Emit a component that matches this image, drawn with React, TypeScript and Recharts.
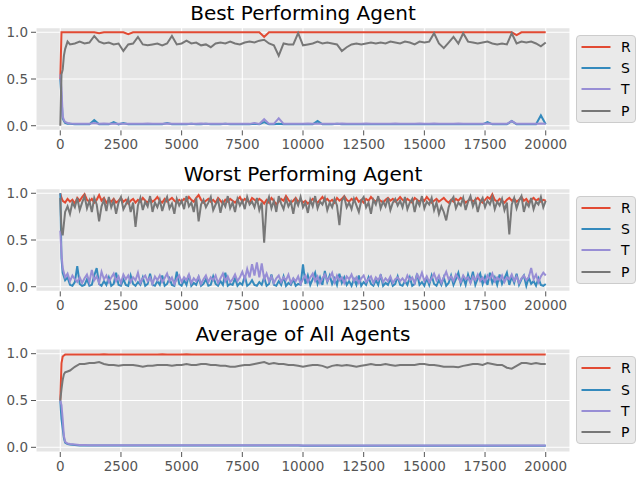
import React from 'react';
import { LineChart, Line, XAxis, YAxis, CartesianGrid, Legend } from 'recharts';

// training step at which each sample was taken (best / average panels)
const STEPS = [
  0, 50, 100, 150, 200, 300, 400, 600, 800, 1000,
  1200, 1400, 1600, 1800, 2000, 2200, 2400, 2600, 2800, 3000,
  3200, 3400, 3600, 3800, 4000, 4200, 4400, 4600, 4800, 5000,
  5200, 5400, 5600, 5800, 6000, 6200, 6400, 6600, 6800, 7000,
  7200, 7400, 7600, 7800, 8000, 8200, 8400, 8600, 8800, 9000,
  9200, 9400, 9600, 9800, 10000, 10200, 10400, 10600, 10800, 11000,
  11200, 11400, 11600, 11800, 12000, 12200, 12400, 12600, 12800, 13000,
  13200, 13400, 13600, 13800, 14000, 14200, 14400, 14600, 14800, 15000,
  15200, 15400, 15600, 15800, 16000, 16200, 16400, 16600, 16800, 17000,
  17200, 17400, 17600, 17800, 18000, 18200, 18400, 18600, 18800, 19000,
  19200, 19400, 19600, 19800, 20000,
];

// the worst agent is noisier, sampled every 100 steps
const WORST_STEPS = [
  0, 50,
  100, 200, 300, 400, 500, 600, 700, 800, 900, 1000,
  1100, 1200, 1300, 1400, 1500, 1600, 1700, 1800, 1900, 2000,
  2100, 2200, 2300, 2400, 2500, 2600, 2700, 2800, 2900, 3000,
  3100, 3200, 3300, 3400, 3500, 3600, 3700, 3800, 3900, 4000,
  4100, 4200, 4300, 4400, 4500, 4600, 4700, 4800, 4900, 5000,
  5100, 5200, 5300, 5400, 5500, 5600, 5700, 5800, 5900, 6000,
  6100, 6200, 6300, 6400, 6500, 6600, 6700, 6800, 6900, 7000,
  7100, 7200, 7300, 7400, 7500, 7600, 7700, 7800, 7900, 8000,
  8100, 8200, 8300, 8400, 8500, 8600, 8700, 8800, 8900, 9000,
  9100, 9200, 9300, 9400, 9500, 9600, 9700, 9800, 9900, 10000,
  10100, 10200, 10300, 10400, 10500, 10600, 10700, 10800, 10900, 11000,
  11100, 11200, 11300, 11400, 11500, 11600, 11700, 11800, 11900, 12000,
  12100, 12200, 12300, 12400, 12500, 12600, 12700, 12800, 12900, 13000,
  13100, 13200, 13300, 13400, 13500, 13600, 13700, 13800, 13900, 14000,
  14100, 14200, 14300, 14400, 14500, 14600, 14700, 14800, 14900, 15000,
  15100, 15200, 15300, 15400, 15500, 15600, 15700, 15800, 15900, 16000,
  16100, 16200, 16300, 16400, 16500, 16600, 16700, 16800, 16900, 17000,
  17100, 17200, 17300, 17400, 17500, 17600, 17700, 17800, 17900, 18000,
  18100, 18200, 18300, 18400, 18500, 18600, 18700, 18800, 18900, 19000,
  19100, 19200, 19300, 19400, 19500, 19600, 19700, 19800, 19900, 20000,
];

const X_TICKS = [0, 2500, 5000, 7500, 10000, 12500, 15000, 17500, 20000];
const Y_TICKS = [0, 0.5, 1];
const SERIES = ['R', 'S', 'T', 'P'];
const TITLES = ['Best Performing Agent', 'Worst Performing Agent', 'Average of All Agents'];

// --- best agent ---
const BEST_R = [
  0.5, 1, 1, 1, 1, 1, 1, 1, 1, 1,
  1, 1, 0.99, 1, 1, 1, 1, 1, 0.98, 1,
  1, 1, 1, 1, 1, 1, 1, 1, 1, 1,
  1, 1, 1, 1, 1, 1, 1, 1, 1, 1,
  1, 1, 1, 1, 1, 1, 0.95, 1, 1, 1,
  1, 1, 1, 1, 1, 1, 1, 1, 1, 1,
  1, 1, 1, 1, 1, 1, 1, 1, 1, 1,
  1, 1, 1, 1, 1, 1, 1, 1, 1, 1,
  1, 1, 1, 1, 1, 1, 1, 1, 1, 1,
  1, 1, 1, 1, 1, 1, 1, 1, 0.97, 1,
  1, 1, 1, 1, 1,
];
const BEST_S = [
  0.5, 0.3, 0.08, 0.05, 0.03, 0.02, 0.02, 0.015, 0.015, 0.015,
  0.015, 0.06, 0.015, 0.015, 0.015, 0.04, 0.015, 0.03, 0.015, 0.015,
  0.015, 0.015, 0.015, 0.015, 0.015, 0.015, 0.03, 0.015, 0.015, 0.015,
  0.015, 0.02, 0.015, 0.015, 0.02, 0.015, 0.015, 0.015, 0.02, 0.015,
  0.015, 0.015, 0.015, 0.015, 0.02, 0.015, 0.04, 0.015, 0.015, 0.02,
  0.015, 0.015, 0.015, 0.015, 0.015, 0.015, 0.015, 0.05, 0.015, 0.015,
  0.015, 0.02, 0.015, 0.015, 0.015, 0.015, 0.015, 0.015, 0.015, 0.015,
  0.015, 0.015, 0.015, 0.015, 0.015, 0.015, 0.015, 0.015, 0.015, 0.015,
  0.015, 0.015, 0.015, 0.015, 0.015, 0.015, 0.015, 0.015, 0.015, 0.015,
  0.015, 0.015, 0.04, 0.015, 0.015, 0.015, 0.015, 0.05, 0.015, 0.015,
  0.015, 0.015, 0.015, 0.11, 0.015,
];
const BEST_T = [
  0.55, 0.4, 0.1, 0.06, 0.04, 0.03, 0.025, 0.02, 0.02, 0.02,
  0.02, 0.03, 0.02, 0.025, 0.02, 0.02, 0.02, 0.02, 0.02, 0.02,
  0.02, 0.02, 0.025, 0.02, 0.02, 0.02, 0.025, 0.02, 0.02, 0.02,
  0.02, 0.02, 0.02, 0.025, 0.02, 0.02, 0.02, 0.02, 0.02, 0.02,
  0.02, 0.02, 0.02, 0.02, 0.03, 0.02, 0.07, 0.02, 0.02, 0.08,
  0.02, 0.02, 0.02, 0.02, 0.02, 0.025, 0.02, 0.02, 0.02, 0.02,
  0.02, 0.02, 0.025, 0.02, 0.02, 0.02, 0.02, 0.025, 0.02, 0.02,
  0.02, 0.02, 0.02, 0.025, 0.02, 0.02, 0.02, 0.02, 0.025, 0.02,
  0.02, 0.025, 0.02, 0.02, 0.02, 0.02, 0.025, 0.02, 0.02, 0.02,
  0.02, 0.02, 0.025, 0.02, 0.02, 0.02, 0.02, 0.05, 0.02, 0.02,
  0.02, 0.02, 0.02, 0.025, 0.02,
];
const BEST_P = [
  0, 0.55, 0.6, 0.75, 0.82, 0.9, 0.87, 0.88, 0.9, 0.88,
  0.89, 0.96, 0.9, 0.88, 0.89, 0.87, 0.88, 0.8, 0.87, 0.88,
  0.95, 0.87, 0.86, 0.87, 0.88, 0.86, 0.88, 0.96, 0.87, 0.88,
  0.91, 0.88, 0.89, 0.86, 0.87, 0.84, 0.88, 0.89, 0.88, 0.9,
  0.88, 0.87, 0.89, 0.9, 0.89, 0.91, 0.92, 0.88, 0.86, 0.75,
  0.88, 0.87, 0.87, 0.99, 0.86, 0.87, 0.88, 0.9, 0.88, 0.89,
  0.88, 0.87, 0.8, 0.84, 0.87, 0.88, 0.87, 0.88, 0.89, 0.88,
  0.89, 0.88, 0.9, 0.89, 0.88, 0.9, 0.89, 0.87, 0.9, 0.89,
  0.9, 0.99, 0.88, 0.83, 0.89, 0.95, 0.88, 0.99, 0.9, 0.89,
  0.88, 0.89, 0.9, 0.88, 0.87, 0.88, 0.87, 0.99, 0.88, 0.9,
  0.89, 0.9, 0.88, 0.85, 0.89,
];

// --- worst agent ---
const WORST_R = [
  1.0, 0.95,
  0.92, 0.9, 0.94, 0.91, 0.93, 0.89, 0.95, 0.92, 0.96, 0.99, 0.93, 0.91, 0.94, 0.9, 0.93, 0.98, 0.92, 0.95, 0.9, 0.93,
  0.91, 0.94, 0.9, 0.92, 0.95, 0.91, 0.93, 0.89, 0.92, 0.94, 0.9, 0.93, 0.91, 0.95, 0.92, 0.9, 0.94, 0.91, 0.93, 0.96,
  0.92, 0.9, 0.94, 0.91, 0.93, 0.95, 0.92, 0.9, 0.93, 0.91, 0.94, 0.92, 0.96, 0.93, 0.91, 0.95, 0.98, 0.93, 0.9, 0.92,
  0.94, 0.91, 0.93, 0.9, 0.95, 0.92, 0.89, 0.93, 0.91, 0.94, 0.92, 0.9, 0.93, 0.96, 0.91, 0.94, 0.92, 0.9, 0.95, 0.93,
  0.91, 0.94, 0.92, 0.89, 0.93, 0.9, 0.95, 0.92, 0.88, 0.91, 0.94, 0.92, 0.97, 0.93, 0.9, 0.92, 0.95, 0.91, 0.93, 0.9,
  0.92, 0.89, 0.91, 0.94, 0.92, 0.9, 0.93, 0.96, 0.92, 0.94, 0.91, 0.93, 0.9, 0.95, 0.92, 0.94, 0.97, 0.93, 0.91, 0.94,
  0.92, 0.95, 0.91, 0.93, 0.9, 0.94, 0.92, 0.96, 0.93, 0.91, 0.94, 0.92, 0.9, 0.93, 0.95, 0.92, 0.94, 0.91, 0.93, 0.96,
  0.93, 0.91, 0.94, 0.92, 0.9, 0.95, 0.93, 0.91, 0.94, 0.92, 0.96, 0.93, 0.9, 0.92, 0.94, 0.91, 0.93, 0.95, 0.92, 0.9,
  0.93, 0.91, 0.94, 0.92, 0.95, 0.93, 0.9, 0.92, 0.94, 0.91, 0.93, 0.95, 0.92, 0.9, 0.93, 0.96, 0.94, 0.99, 0.93, 0.91,
  0.94, 0.92, 0.9, 0.93, 0.95, 0.92, 0.94, 0.91, 0.93, 0.96, 0.92, 0.94, 0.9, 0.93, 0.95, 0.92, 0.94, 0.91, 0.93, 0.92,
];
const WORST_S = [
  1.0, 0.3,
  0.15, 0.07, 0.1, 0.02, 0.01, 0.05, 0.22, 0.03, 0.01, 0.02, 0.08, 0.01, 0.02, 0.12, 0.2, 0.03, 0.01, 0.06, 0.02, 0.1,
  0.01, 0.03, 0.15, 0.02, 0.01, 0.08, 0.02, 0.01, 0.12, 0.03, 0.01, 0.05, 0.02, 0.1, 0.01, 0.03, 0.14, 0.02, 0.01, 0.06,
  0.02, 0.12, 0.01, 0.03, 0.09, 0.02, 0.01, 0.16, 0.03, 0.01, 0.07, 0.02, 0.13, 0.01, 0.04, 0.02, 0.1, 0.01, 0.03, 0.08,
  0.01, 0.02, 0.11, 0.03, 0.01, 0.06, 0.02, 0.15, 0.01, 0.03, 0.02, 0.09, 0.01, 0.04, 0.02, 0.12, 0.01, 0.03, 0.07, 0.02,
  0.01, 0.05, 0.02, 0.1, 0.01, 0.03, 0.13, 0.02, 0.01, 0.06, 0.02, 0.11, 0.01, 0.04, 0.02, 0.08, 0.01, 0.03, 0.02, 0.24,
  0.03, 0.12, 0.02, 0.08, 0.15, 0.03, 0.1, 0.02, 0.17, 0.05, 0.12, 0.03, 0.09, 0.02, 0.14, 0.04, 0.1, 0.02, 0.06, 0.01,
  0.08, 0.02, 0.12, 0.01, 0.05, 0.02, 0.1, 0.03, 0.01, 0.07, 0.02, 0.13, 0.01, 0.04, 0.02, 0.09, 0.01, 0.03, 0.11, 0.02,
  0.01, 0.06, 0.02, 0.1, 0.01, 0.03, 0.14, 0.02, 0.05, 0.01, 0.09, 0.02, 0.12, 0.03, 0.01, 0.07, 0.02, 0.1, 0.01, 0.04,
  0.12, 0.02, 0.08, 0.15, 0.03, 0.1, 0.02, 0.13, 0.05, 0.16, 0.02, 0.09, 0.14, 0.03, 0.11, 0.02, 0.15, 0.04, 0.1, 0.02,
  0.13, 0.03, 0.09, 0.15, 0.02, 0.11, 0.04, 0.14, 0.02, 0.08, 0.12, 0.01, 0.1, 0.03, 0.06, 0.01, 0.09, 0.02, 0.01, 0.03,
];
const WORST_T = [
  0.6, 0.35,
  0.2, 0.1, 0.14, 0.06, 0.12, 0.08, 0.05, 0.1, 0.04, 0.09, 0.13, 0.05, 0.18, 0.07, 0.11, 0.04, 0.16, 0.08, 0.12, 0.05,
  0.1, 0.14, 0.06, 0.11, 0.04, 0.13, 0.08, 0.12, 0.05, 0.1, 0.07, 0.15, 0.04, 0.09, 0.12, 0.06, 0.1, 0.03, 0.11, 0.07,
  0.12, 0.05, 0.09, 0.14, 0.06, 0.1, 0.03, 0.08, 0.12, 0.05, 0.1, 0.07, 0.13, 0.04, 0.09, 0.06, 0.11, 0.03, 0.08, 0.12,
  0.05, 0.1, 0.07, 0.12, 0.04, 0.09, 0.14, 0.06, 0.11, 0.05, 0.08, 0.13, 0.06, 0.1, 0.16, 0.08, 0.19, 0.1, 0.24, 0.12,
  0.26, 0.1, 0.25, 0.08, 0.14, 0.06, 0.11, 0.04, 0.09, 0.12, 0.05, 0.1, 0.07, 0.13, 0.04, 0.09, 0.06, 0.11, 0.03, 0.08,
  0.12, 0.05, 0.1, 0.14, 0.06, 0.11, 0.04, 0.09, 0.13, 0.06, 0.1, 0.15, 0.05, 0.12, 0.07, 0.1, 0.04, 0.11, 0.08, 0.13,
  0.06, 0.1, 0.04, 0.09, 0.12, 0.05, 0.08, 0.11, 0.04, 0.1, 0.07, 0.12, 0.05, 0.09, 0.06, 0.11, 0.04, 0.08, 0.1, 0.06,
  0.09, 0.05, 0.12, 0.07, 0.1, 0.04, 0.13, 0.08, 0.15, 0.06, 0.11, 0.05, 0.09, 0.14, 0.07, 0.12, 0.04, 0.1, 0.16, 0.08,
  0.11, 0.06, 0.13, 0.09, 0.05, 0.12, 0.08, 0.1, 0.04, 0.11, 0.07, 0.13, 0.06, 0.1, 0.05, 0.12, 0.08, 0.14, 0.06, 0.1,
  0.07, 0.12, 0.05, 0.1, 0.08, 0.13, 0.06, 0.11, 0.04, 0.09, 0.12, 0.07, 0.1, 0.2, 0.08, 0.13, 0.05, 0.11, 0.15, 0.12,
];
const WORST_P = [
  0.95, 0.6,
  0.55, 0.8, 0.86, 0.78, 0.9, 0.85, 0.95, 0.82, 0.9, 0.97, 0.84, 0.92, 0.8, 0.95, 0.88, 0.7, 0.86, 0.93, 0.81, 0.96,
  0.85, 0.92, 0.78, 0.9, 0.96, 0.83, 0.88, 0.94, 0.8, 0.9, 0.64, 0.87, 0.95, 0.82, 0.91, 0.86, 0.97, 0.8, 0.9, 0.85,
  0.93, 0.81, 0.9, 0.96, 0.84, 0.89, 0.78, 0.94, 0.87, 0.92, 0.83, 0.97, 0.86, 0.9, 0.8, 0.95, 0.7, 0.88, 0.93, 0.85,
  0.9, 0.96, 0.82, 0.88, 0.93, 0.79, 0.91, 0.86, 0.97, 0.84, 0.9, 0.8, 0.94, 0.87, 0.92, 0.83, 0.96, 0.88, 0.91, 0.85,
  0.95, 0.82, 0.9, 0.47, 0.88, 0.96, 0.84, 0.92, 0.8, 0.97, 0.89, 0.83, 0.94, 0.86, 0.91, 0.78, 0.93, 0.87, 0.96, 0.85,
  0.9, 0.79, 0.93, 0.86, 0.97, 0.84, 0.91, 0.88, 0.95, 0.82, 0.9, 0.85, 0.94, 0.87, 0.66, 0.92, 0.96, 0.85, 0.9, 0.83,
  0.94, 0.87, 0.8, 0.92, 0.96, 0.85, 0.9, 0.78, 0.93, 0.88, 0.97, 0.84, 0.91, 0.86, 0.95, 0.82, 0.9, 0.94, 0.87, 0.92,
  0.85, 0.96, 0.83, 0.9, 0.94, 0.8, 0.92, 0.87, 0.97, 0.84, 0.91, 0.88, 0.95, 0.82, 0.9, 0.78, 0.86, 0.8, 0.71, 0.85,
  0.92, 0.96, 0.84, 0.9, 0.87, 0.95, 0.82, 0.91, 0.97, 0.86, 0.93, 0.8, 0.9, 0.95, 0.85, 0.92, 0.88, 0.96, 0.83, 0.91,
  0.87, 0.94, 0.82, 0.9, 0.56, 0.88, 0.95, 0.84, 0.92, 0.97, 0.8, 0.9, 0.86, 0.95, 0.83, 0.91, 0.88, 0.96, 0.85, 0.92,
];

// --- average of all agents ---
const AVG_R = [
  0.5, 0.9, 0.97, 0.98, 0.99, 0.99, 0.99, 0.99, 0.99, 0.99,
  0.99, 0.99, 0.99, 0.995, 0.99, 0.99, 0.99, 0.99, 0.99, 0.99,
  0.99, 0.99, 0.99, 0.99, 0.99, 0.995, 0.99, 0.99, 0.99, 0.99,
  0.995, 0.99, 0.99, 0.99, 0.99, 0.99, 0.99, 0.99, 0.99, 0.99,
  0.99, 0.99, 0.99, 0.99, 0.99, 0.99, 0.99, 0.99, 0.99, 0.99,
  0.99, 0.99, 0.99, 0.99, 0.99, 0.99, 0.99, 0.99, 0.99, 0.99,
  0.99, 0.99, 0.99, 0.99, 0.99, 0.99, 0.99, 0.99, 0.99, 0.99,
  0.99, 0.99, 0.99, 0.99, 0.99, 0.99, 0.99, 0.99, 0.99, 0.99,
  0.99, 0.99, 0.99, 0.99, 0.99, 0.99, 0.99, 0.99, 0.99, 0.99,
  0.99, 0.99, 0.99, 0.99, 0.99, 0.99, 0.99, 0.99, 0.99, 0.99,
  0.99, 0.99, 0.99, 0.99, 0.99,
];
const AVG_S = [
  0.5, 0.3, 0.2, 0.1, 0.05, 0.035, 0.03, 0.025, 0.02, 0.02,
  0.02, 0.02, 0.02, 0.02, 0.02, 0.02, 0.02, 0.02, 0.02, 0.02,
  0.02, 0.02, 0.02, 0.02, 0.02, 0.02, 0.02, 0.02, 0.02, 0.02,
  0.02, 0.02, 0.02, 0.02, 0.02, 0.02, 0.02, 0.02, 0.02, 0.02,
  0.02, 0.02, 0.02, 0.02, 0.02, 0.02, 0.02, 0.02, 0.02, 0.02,
  0.02, 0.02, 0.02, 0.02, 0.018, 0.018, 0.018, 0.018, 0.018, 0.018,
  0.018, 0.018, 0.018, 0.018, 0.018, 0.018, 0.018, 0.018, 0.018, 0.018,
  0.018, 0.018, 0.018, 0.018, 0.018, 0.018, 0.018, 0.018, 0.018, 0.018,
  0.018, 0.018, 0.018, 0.018, 0.018, 0.018, 0.018, 0.018, 0.018, 0.018,
  0.018, 0.018, 0.018, 0.018, 0.018, 0.018, 0.018, 0.018, 0.018, 0.018,
  0.018, 0.018, 0.018, 0.018, 0.018,
];
const AVG_T = [
  0.5, 0.45, 0.3, 0.12, 0.06, 0.04, 0.035, 0.03, 0.025, 0.025,
  0.022, 0.022, 0.022, 0.022, 0.022, 0.022, 0.022, 0.022, 0.022, 0.022,
  0.022, 0.022, 0.022, 0.022, 0.022, 0.022, 0.022, 0.022, 0.022, 0.022,
  0.022, 0.022, 0.022, 0.022, 0.022, 0.022, 0.022, 0.022, 0.022, 0.022,
  0.022, 0.022, 0.022, 0.022, 0.022, 0.022, 0.022, 0.022, 0.022, 0.022,
  0.022, 0.022, 0.022, 0.022, 0.02, 0.02, 0.02, 0.02, 0.02, 0.02,
  0.02, 0.02, 0.02, 0.02, 0.02, 0.02, 0.02, 0.02, 0.02, 0.02,
  0.02, 0.02, 0.02, 0.02, 0.02, 0.02, 0.02, 0.02, 0.02, 0.02,
  0.02, 0.02, 0.02, 0.02, 0.02, 0.02, 0.02, 0.02, 0.02, 0.02,
  0.02, 0.02, 0.02, 0.02, 0.02, 0.02, 0.02, 0.02, 0.02, 0.02,
  0.02, 0.02, 0.02, 0.02, 0.02,
];
const AVG_P = [
  0.5, 0.62, 0.72, 0.78, 0.8, 0.81, 0.82, 0.86, 0.89, 0.89,
  0.9, 0.9, 0.91, 0.89, 0.88, 0.88, 0.87, 0.88, 0.88, 0.88,
  0.87, 0.86, 0.87, 0.87, 0.88, 0.88, 0.88, 0.87, 0.88, 0.88,
  0.89, 0.88, 0.88, 0.89, 0.89, 0.88, 0.88, 0.87, 0.87, 0.86,
  0.86, 0.87, 0.88, 0.88, 0.89, 0.9, 0.91, 0.89, 0.9, 0.89,
  0.89, 0.88, 0.88, 0.87, 0.86, 0.87, 0.88, 0.88, 0.87, 0.85,
  0.87, 0.88, 0.87, 0.88, 0.87, 0.86, 0.87, 0.88, 0.89, 0.88,
  0.88, 0.89, 0.88, 0.87, 0.88, 0.88, 0.88, 0.88, 0.89, 0.89,
  0.88, 0.88, 0.87, 0.86, 0.86, 0.86, 0.855, 0.87, 0.88, 0.89,
  0.89, 0.88, 0.9, 0.89, 0.88, 0.88, 0.85, 0.84, 0.87, 0.9,
  0.9, 0.89, 0.9, 0.89, 0.89,
];

const COLORS: Record<string, string> = { R: '#E24A33', S: '#348ABD', T: '#988ED5', P: '#777777' };

const buildRows = (steps: number[], r: number[], s: number[], t: number[], p: number[]) =>
  steps.map((step, i) => ({ step, R: r[i], S: s[i], T: t[i], P: p[i] }));

const PANELS = [
  { title: TITLES[0], top: 0, plotTop: 27.6, axisH: 29.6, rows: buildRows(STEPS, BEST_R, BEST_S, BEST_T, BEST_P) },
  { title: TITLES[1], top: 160, plotTop: 28.6, axisH: 28.6, rows: buildRows(WORST_STEPS, WORST_R, WORST_S, WORST_T, WORST_P) },
  { title: TITLES[2], top: 320, plotTop: 29, axisH: 28, rows: buildRows(STEPS, AVG_R, AVG_S, AVG_T, AVG_P) },
];

const FONT = '"DejaVu Sans", Verdana, sans-serif';

const LegendBox = (props: any) => {
  const items = [...(props.payload || [])].sort(
    (a: any, b: any) => SERIES.indexOf(a.value) - SERIES.indexOf(b.value)
  );
  return (
    <div style={{
      width: 60, height: 88, boxSizing: 'border-box', border: '1px solid #CCCCCC', borderRadius: 4,
      background: 'rgba(229,229,229,0.8)', position: 'relative', fontFamily: FONT,
    }}>
      {items.map((it: any, i: number) => (
        <div key={it.value} style={{ position: 'absolute', left: 0, top: 1 + i * 21.2, height: 20, width: 58 }}>
          <svg width={36} height={20} style={{ position: 'absolute', left: 0, top: 0 }}>
            <line x1={4.5} x2={33.5} y1={10} y2={10} stroke={it.color} strokeWidth={2} />
          </svg>
          <span style={{ position: 'absolute', left: 44, top: 1, fontSize: 14, lineHeight: '18px', color: '#000' }}>
            {it.value}
          </span>
        </div>
      ))}
    </div>
  );
};

const Panel = ({ title, top, plotTop, axisH, rows }: any) => (
  <div style={{ position: 'absolute', left: 0, top, width: 640, height: 160 }}>
    <div style={{
      position: 'absolute', left: 36, width: 534, top: plotTop - 27, textAlign: 'center',
      fontSize: 20, lineHeight: '24px', color: '#000', fontFamily: FONT,
    }}>{title}</div>
    <LineChart width={640} height={160} data={rows} margin={{ top: plotTop, right: 70, bottom: 0, left: 0 }}>
      <CartesianGrid fill="#E5E5E5" fillOpacity={1} stroke="#FFFFFF" strokeWidth={1.1} />
      <XAxis
        dataKey="step" type="number" domain={[-1000, 21000]} ticks={X_TICKS} height={axisH}
        axisLine={false} tickLine={{ stroke: '#555555' }} tickSize={5} tickMargin={4}
        tick={{ fill: '#555555', fontSize: 13.5, fontFamily: FONT }} interval={0}
      />
      <YAxis
        type="number" domain={[-0.05, 1.05]} ticks={Y_TICKS} width={36}
        axisLine={false} tickLine={{ stroke: '#555555' }} tickSize={5} tickMargin={3}
        tick={{ fill: '#555555', fontSize: 13.5, fontFamily: FONT }}
        tickFormatter={(v: number) => v.toFixed(1)}
      />
      <Legend
        layout="vertical" align="center" verticalAlign="middle"
        wrapperStyle={{ position: 'absolute', left: 576, top: plotTop + 7.4, width: 60, height: 88 }}
        content={<LegendBox />}
      />
      {SERIES.map((k) => (
        <Line
          key={k} dataKey={k} name={k} type="linear" stroke={COLORS[k]} strokeWidth={2}
          dot={false} activeDot={false} isAnimationActive={false}
        />
      ))}
    </LineChart>
  </div>
);

export default function App() {
  return (
    <div style={{ position: 'fixed', left: 0, top: 0, width: 640, height: 480, background: '#fff', fontFamily: FONT }}>
      {PANELS.map((p) => (
        <Panel key={p.title} {...p} />
      ))}
    </div>
  );
}
